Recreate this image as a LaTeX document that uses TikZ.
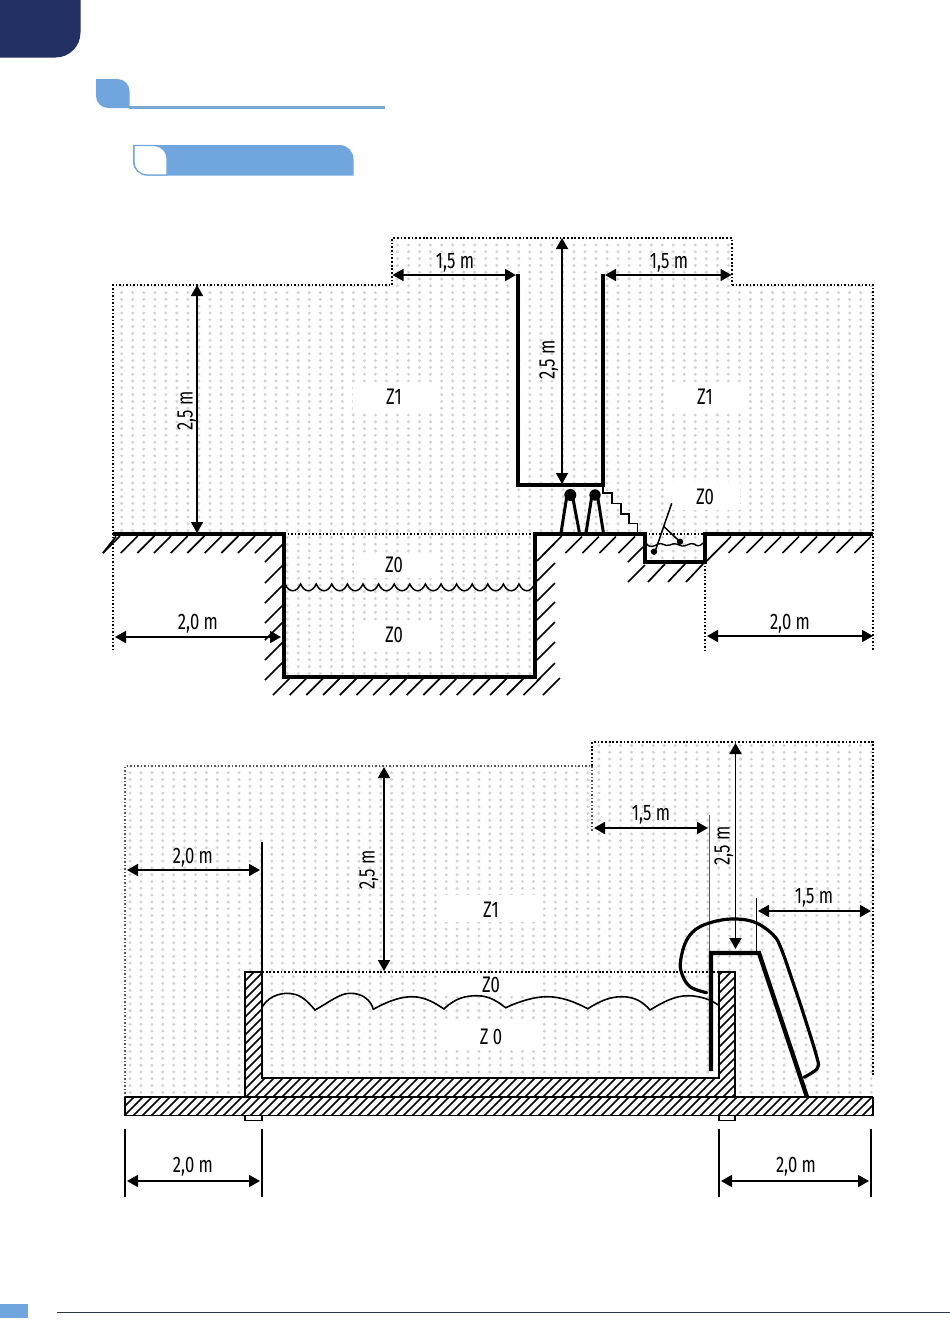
\documentclass[tikz,border=0pt]{standalone}
\usepackage{fontspec}
\usetikzlibrary{arrows.meta}
\newfontfamily\lblfont[FakeStretch=0.74]{Fira Sans}
\definecolor{navy}{HTML}{222F63}
\definecolor{sky}{HTML}{70A5DD}
\definecolor{skyline}{HTML}{7AA7CF}
\definecolor{dotgray}{HTML}{D2D2D2}
\definecolor{footline}{HTML}{2A3550}
\tikzset{
  dotcol/.style={draw=dotgray,line width=3.3pt,line cap=round,dash pattern=on 0pt off 6.8pt},
  heavy/.style={line width=4pt,line join=miter},
  tick/.style={line width=1.7pt},
  dotb/.style={line width=1.8pt,dash pattern=on 1.8pt off 1.9pt},
  dotl/.style={line width=1.3pt,dash pattern=on 1.5pt off 2pt},
  dim/.style={line width=1.8pt,{Triangle[length=11pt,width=12pt]}-{Triangle[length=11pt,width=12pt]}},
  lbl/.style={font=\lblfont\fontsize{22.5}{22.5}\selectfont,inner sep=0pt,text depth=0pt},
  hole/.style={fill=white,draw=none}
}
\begin{document}
\begin{tikzpicture}[x=1pt,y=-1pt]
\useasboundingbox (0,0) rectangle (950,1344);
\fill[white] (0,0) rectangle (950,1344);
% page furniture
\fill[navy] (0,0) -- (80.5,0) [rounded corners=25pt] -- (80.5,57.5) [sharp corners] -- (0,57.5) -- cycle;
\fill[sky] (96,79) [rounded corners=12pt] -- (129.5,79) [sharp corners] -- (129.5,108) [rounded corners=12pt] -- (96,108) [sharp corners] -- cycle;
\draw[skyline,line width=2.2pt] (129,107.5) -- (385,107.5);
\fill[sky] (133,145) [rounded corners=14pt] -- (353.5,145) [sharp corners] -- (353.5,175.5) -- (147,175.5) [rounded corners=14pt] -- (133,175.5) [sharp corners] -- cycle;
\draw[draw=sky,fill=white,line width=1.2pt] (134,145.5) [rounded corners=13pt] -- (167,145.5) [sharp corners] -- (167,175) [rounded corners=13pt] -- (134,175) [sharp corners] -- cycle;
\fill[sky] (0,1304) rectangle (28,1318);
\draw[footline,line width=1.2pt] (57,1312.5) -- (950,1312.5);

% ===== upper diagram =====
\begin{scope}
\clip (113,285) -- (392,285) -- (392,238) -- (732,238) -- (732,285) -- (873,285) -- (873,533) -- (705,533) -- (705,562) -- (645,562) -- (645,533) -- (535,533) -- (535,677) -- (284,677) -- (284,533) -- (113,533) -- cycle;
\foreach \i in {-10,...,60} \draw[dotcol] ({221+11.03*\i},245) -- ({221+11.03*\i},680);
\end{scope}
\fill[hole] (353,382) rectangle (436,412);
\fill[hole] (664,382) rectangle (745,412);
\fill[hole] (672,482) rectangle (740,510);
\fill[hole] (354,553) rectangle (436,578);
\fill[hole] (354,622) rectangle (436,648);
% dotted limits
\draw[dotb] (392,285) -- (392,238) -- (732,238) -- (732,285);
\draw[dotl] (113,650) -- (113,285) -- (392,285);
\draw[dotl] (732,285) -- (873,285) -- (873,650);
\draw[dotl] (284,534) -- (535,534);
\draw[dotl] (645,534) -- (705,534);
\draw[dotl] (705,562) -- (705,650);
% ground ticks
\foreach \x in {120,137.7,154.3,171,187.7,204.3,221.7,238.3,255,272} \draw[tick] (\x,536) -- ({\x-17},553);
\foreach \y in {544,565,585,605,622,642,662} \draw[tick] (283,\y) -- (265,{\y+18});
\foreach \x in {290,306.7,323.4,340.1,356.8,373.5,390.2,406.9,423.6,440.3,457,473.7,490.4,507.1,523.8,540.5,560} \draw[tick] (\x,678) -- ({\x-17},695);
\draw[tick] (561.7,536) -- (537,561);
\foreach \y in {563,583,602,622,642,663} \draw[tick] (555,\y) -- (537,{\y+18});
\foreach \x in {582,599,616,635} \draw[tick] (\x,536.5) -- ({\x-16.5},553);
\draw[tick] (643,547) -- (628,562);
\draw[tick] (645,565) -- (628,582);
\foreach \x in {665,685,703} \draw[tick] (\x,564) -- ({\x-17},582);
\draw[tick] (731,536.5) -- (706.7,561);
\foreach \x in {745,763,781,799,817,835,853,871} \draw[tick] (\x,536.5) -- ({\x-16.5},553);
\draw[tick] (116,536.5) -- (103,553);
% ground and walls
\draw[heavy] (113,534) -- (284,534) -- (284,677) -- (535,677) -- (535,534) -- (645,534) -- (645,562) -- (705,562) -- (705,534) -- (873,534);
\draw[line width=4pt] (517.5,274) -- (517.5,485) -- (603,485) -- (603,274);
% water
\draw[line width=1.5pt] (285,584) \foreach \i in {0,...,15} { .. controls ({285+15.6*\i+4},593) and ({285+15.6*\i+11.6},593) .. ({285+15.6*(\i+1)},584) };
% people
\fill (570.3,495) circle (6pt);
\fill (595,495) circle (5.7pt);
\draw[line width=3pt] (566.7,497) -- (561,533);
\draw[line width=3pt] (572.7,497) -- (579.3,532);
\draw[line width=3pt] (591.7,497) -- (586,533);
\draw[line width=3pt] (597.7,497) -- (603.3,532);
% steps
\draw[line width=1.6pt] (602.7,487) -- (602.7,492.7) -- (611.7,492.7) -- (611.7,503.3) -- (620.7,503.3) -- (620.7,514) -- (629,514) -- (629,523.3) -- (637.3,523.3) -- (637.3,534);
% foot bath
\draw[line width=1.4pt] (646,543) .. controls (650,549) and (654,546) .. (658,544) .. controls (662,542) and (665,547) .. (670,545) .. controls (675,542) and (678,545) .. (682,546) .. controls (686,547) and (690,542) .. (694,544) .. controls (698,547) and (700,546) .. (703,543);
\draw[line width=1.5pt] (671.7,503.3) -- (655,551.7);
\draw[line width=1.5pt] (664,526.7) -- (680,541.7);
\fill (654,551.7) circle (3.2pt);
\fill (680,541.7) circle (3.2pt);
% dims
\draw[dim] (392.5,275) -- (516,275);
\draw[dim] (605,275) -- (731.5,275);
\draw[dim] (562,238) -- (562,484);
\draw[dim] (197,285) -- (197,533);
\draw[dim] (115,637) -- (281,637);
\draw[dim] (707,636) -- (873,636);
\node[lbl] (a1) at (455,261) {1,5 m};
\node[lbl] (a2) at (669,261) {1,5 m};
\node[lbl,rotate=90] (a3) at (547,360) {2,5 m};
\node[lbl,rotate=90] (a4) at (185,411) {2,5 m};
\node[lbl] (a5) at (198,622) {2,0 m};
\node[lbl] (a6) at (790,622) {2,0 m};
\node[lbl] (a7) at (394,397) {Z1};
\node[lbl] (a8) at (705,397) {Z1};
\node[lbl] (a9) at (705,497) {Z0};
\node[lbl] (a10) at (394,565) {Z0};
\node[lbl] (a11) at (394,635) {Z0};

% ===== lower diagram =====
\begin{scope}
\clip (125,766) -- (592,766) -- (592,742) -- (873,742) -- (873,1097) -- (125,1097) -- cycle;
\foreach \i in {-12,...,57} \draw[dotcol] ({250+10.9*\i},1010.7) -- ({250+10.9*\i},1100);
\foreach \i in {-12,...,57} \draw[dotcol] ({250+10.9*\i},1010.7) -- ({250+10.9*\i},740);
\end{scope}
\fill[hole] (440,895) rectangle (543,922);
\fill[hole] (440,973) rectangle (543,996);
\fill[hole] (440,1022) rectangle (543,1049);
\draw[dotl,gray!70!black] (125,1097) -- (125,766) -- (592,766) -- (592,832);
\draw[dotb,line width=1.3pt] (592,766) -- (592,742) -- (873,742) -- (873,1075);
\draw[dotb] (262,972) -- (719,972);
% pool body hatch
\fill[white] (245,972) -- (262,972) -- (262,1078) -- (719,1078) -- (719,972) -- (735,972) -- (735,1097) -- (245,1097) -- cycle;
\begin{scope}
\clip (245,972) -- (262,972) -- (262,1078) -- (719,1078) -- (719,972) -- (735,972) -- (735,1097) -- (245,1097) -- cycle;
\foreach \i in {0,...,110} \draw[line width=1.5pt] ({245+9*\i},972) -- ({245+9*\i-125},1097);
\end{scope}
\draw[line width=1.7pt] (245,1097) -- (245,972) -- (262,972) -- (262,1078) -- (719,1078) -- (719,972) -- (735,972) -- (735,1097);
% slab
\fill[white] (125,1097) rectangle (873,1115.5);
\begin{scope}
\clip (125,1097) rectangle (873,1115.5);
\foreach \i in {0,...,88} \draw[line width=1.5pt] ({125+9*\i},1097) -- ({125+9*\i-19},1116);
\end{scope}
\draw[line width=2.4pt] (125,1097) -- (873,1097);
\draw[line width=1.6pt] (125,1097) -- (125,1115.5) -- (873,1115.5) -- (873,1097);
\draw[line width=1.1pt] (245,1116) -- (245,1120.5) -- (262,1120.5) -- (262,1116);
\draw[line width=1.1pt] (719,1116) -- (719,1120.5) -- (735,1120.5) -- (735,1116);
% guide lines
\draw[line width=1.2pt] (262,842) -- (262,972);
\draw[line width=1.3pt,gray!70!black] (709.5,815) -- (709.5,952);
\draw[line width=1.1pt] (756.7,898) -- (756.7,951);
\draw[line width=1.3pt] (125,1129) -- (125,1197);
\draw[line width=1.3pt] (262,1129) -- (262,1197);
\draw[line width=1.3pt] (719,1129) -- (719,1197);
\draw[line width=1.3pt] (871,1129) -- (871,1197);
% water
\draw[line width=1.6pt] (262.3,1006.7) .. controls (270,994) and (285,992) .. (293,994) .. controls (302,995) and (310,1004) .. (315,1010) .. controls (328,1003) and (340,993) .. (350,993.3) .. controls (362,993) and (371,1000) .. (373.3,1009.3) .. controls (390,1000) and (402,996.7) .. (412,996.7) .. controls (425,996.7) and (435,1003) .. (444,1009) .. controls (455,998) and (466,995.7) .. (476.7,995.7) .. controls (490,995.7) and (498,1002) .. (505.7,1007.7) .. controls (520,1001) and (535,996.7) .. (546.7,996.7) .. controls (562,996.7) and (575,1002) .. (587.7,1008.7) .. controls (600,1001) and (610,996.7) .. (621.7,996.7) .. controls (635,996.7) and (643,1002) .. (650,1010) .. controls (663,1002) and (675,995.7) .. (688,995.7) .. controls (700,995.7) and (712,1000) .. (718,1005);
% slide
\draw[line width=4.4pt,line join=miter] (711,1071) -- (711,953) -- (759,953) -- (807,1097);
\draw[line width=3.2pt,line cap=round] plot[smooth,tension=.6] coordinates {(706.7,992.7) (690,986.7) (681.7,973.3) (680.7,960) (686.7,940) (700,926.7) (726.7,919.3) (753.3,921.7) (773.3,935) (781.7,950) (793.3,983.3) (803.3,1013.3) (816.7,1056.7) (817.3,1068.3) (804,1077.3)};
% dims
\draw[dim] (127,870) -- (260,870);
\draw[dim] (384,767) -- (384,971);
\draw[dim] (594,828) -- (708,828);
\draw[dim] (735.5,743) -- (735.5,949);
\draw[dim] (758,911) -- (871,911);
\draw[dim] (127,1181) -- (260,1181);
\draw[dim] (721,1181) -- (869,1181);
\node[lbl] (b1) at (193,856) {2,0 m};
\node[lbl,rotate=90] (b2) at (367,870) {2,5 m};
\node[lbl] (b3) at (651,813) {1,5 m};
\node[lbl,rotate=90] (b4) at (722,846) {2,5 m};
\node[lbl] (b5) at (814,896) {1,5 m};
\node[lbl] (b6) at (193,1165) {2,0 m};
\node[lbl] (b7) at (796,1165) {2,0 m};
\node[lbl] (b8) at (491,910) {Z1};
\node[lbl] (b9) at (491,985) {Z0};
\node[lbl] (b10) at (491,1037) {Z 0};
\end{tikzpicture}
\end{document}
